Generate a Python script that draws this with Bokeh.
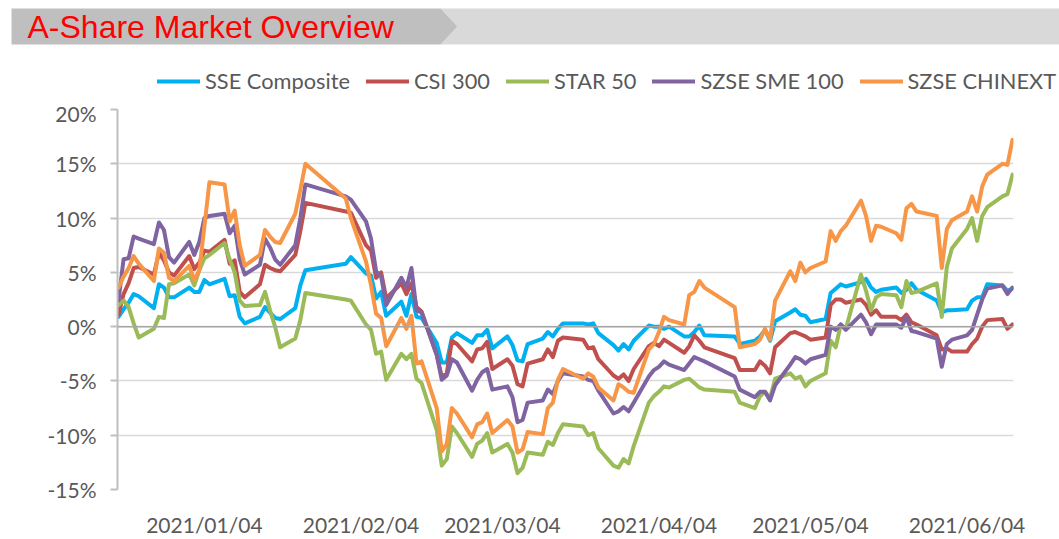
import pandas as pd
from bokeh.plotting import figure
from bokeh.models import ColumnDataSource, FixedTicker, Span, Legend, LegendItem
from bokeh.layouts import column, row
from bokeh.embed import file_html
from bokeh.resources import INLINE
from bokeh.core.properties import value

# ---------------- data ----------------
dates = [
    "2021-01-04", "2021-01-05", "2021-01-06", "2021-01-07", "2021-01-08", "2021-01-11", "2021-01-12",
    "2021-01-13", "2021-01-14", "2021-01-15", "2021-01-18", "2021-01-19", "2021-01-20", "2021-01-21",
    "2021-01-22", "2021-01-25", "2021-01-26", "2021-01-27", "2021-01-28", "2021-01-29",
    "2021-02-01", "2021-02-02", "2021-02-03", "2021-02-04", "2021-02-05", "2021-02-08", "2021-02-09",
    "2021-02-10", "2021-02-18", "2021-02-19", "2021-02-22", "2021-02-23", "2021-02-24", "2021-02-25",
    "2021-02-26",
    "2021-03-01", "2021-03-02", "2021-03-03", "2021-03-04", "2021-03-05", "2021-03-08", "2021-03-09",
    "2021-03-10", "2021-03-11", "2021-03-12", "2021-03-15", "2021-03-16", "2021-03-17", "2021-03-18",
    "2021-03-19", "2021-03-22", "2021-03-23", "2021-03-24", "2021-03-25", "2021-03-26", "2021-03-29",
    "2021-03-30", "2021-03-31",
    "2021-04-01", "2021-04-02", "2021-04-06", "2021-04-07", "2021-04-08", "2021-04-09", "2021-04-12",
    "2021-04-13", "2021-04-14", "2021-04-15", "2021-04-16", "2021-04-19", "2021-04-20", "2021-04-21",
    "2021-04-22", "2021-04-23", "2021-04-26", "2021-04-27", "2021-04-28", "2021-04-29", "2021-04-30",
    "2021-05-06", "2021-05-07", "2021-05-10", "2021-05-11", "2021-05-12", "2021-05-13", "2021-05-14",
    "2021-05-17", "2021-05-18", "2021-05-19", "2021-05-20", "2021-05-21", "2021-05-24", "2021-05-25",
    "2021-05-26", "2021-05-27", "2021-05-28", "2021-05-31",
    "2021-06-01", "2021-06-02", "2021-06-03", "2021-06-04", "2021-06-07", "2021-06-08", "2021-06-09",
    "2021-06-10", "2021-06-11", "2021-06-15", "2021-06-16", "2021-06-17", "2021-06-18", "2021-06-21",
    "2021-06-22", "2021-06-23", "2021-06-24", "2021-06-25", "2021-06-28", "2021-06-29", "2021-06-30",
]

sse_composite = [
    0.9, 1.6, 2.2, 3.0, 2.8, 1.7, 3.9, 3.6, 2.7, 2.7, 3.6, 3.2, 3.2, 4.3, 3.9, 4.4, 2.8, 2.9, 0.9, 0.3,
    0.9, 1.8, 1.3, 0.8, 0.7, 1.7, 3.8, 5.2, 5.8, 6.4, 4.9, 4.7, 2.6, 3.2, 1.0,
    2.3, 1.0, 3.0, 0.9, 0.8, -1.5, -3.3, -3.3, -1.0, -0.6, -1.5, -0.8, -0.8, -0.3, -2.0, -0.9, -1.7,
    -3.1, -3.2, -1.6, -1.1, -0.5, -0.9,
    -0.2, 0.3, 0.3, 0.2, 0.3, -0.6, -1.7, -2.2, -1.6, -2.1, -1.3, 0.1, 0.0, 0.0, -0.2, 0.0, -0.9,
    -0.9, -0.5, 0.1, -0.8,
    -0.9, -1.6, -1.3, -0.9, -0.3, -1.3, 0.5, 1.3, 1.6, 1.1, 1.0, 0.4, 0.7, 3.1, 3.5, 3.9, 3.7, 4.1,
    4.4, 3.6, 3.2, 3.4, 3.6, 3.1, 3.4, 4.0, 3.4, 2.4, 1.3, 1.5, 1.5, 1.6, 2.4, 2.7, 2.7, 3.9, 3.8,
    3.3, 3.5,
]

csi_300 = [
    1.1, 3.0, 4.0, 5.4, 5.5, 4.8, 6.8, 6.1, 5.0, 4.7, 6.5, 5.3, 5.9, 7.0, 6.9, 8.0, 5.8, 6.1, 3.2, 2.7,
    3.9, 5.7, 5.4, 5.2, 5.1, 6.6, 8.8, 11.4, 10.6, 10.5, 7.5, 7.0, 4.5, 5.0, 2.6,
    4.0, 3.0, 4.0, 1.8, 1.4, -2.6, -4.6, -4.3, -1.3, -1.6, -3.2, -2.1, -2.0, -1.4, -3.9, -3.0, -3.6,
    -5.3, -5.5, -3.4, -3.0, -2.1, -2.8,
    -1.3, -1.0, -1.2, -2.0, -1.9, -3.0, -4.5, -4.8, -4.4, -5.0, -3.9, -1.8, -1.5, -1.8, -1.2, -1.5,
    -2.4, -1.8, -0.8, -1.3, -1.9,
    -2.9, -4.0, -4.0, -3.2, -3.6, -4.3, -1.9, -0.6, -0.5, -0.7, -0.9, -1.2, -1.0, 2.0, 2.5, 2.5, 2.2,
    2.5,
    2.0, 1.1, 1.5, 0.9, 0.9, 0.6, 1.1, 0.4, 0.2, -0.8, -2.1, -2.0, -2.3, -2.3, -1.6, -1.1, 0.0, 0.6,
    0.7, -0.2, 0.2,
]

star_50 = [
    2.0, 2.4, 1.8, 0.3, -1.0, -0.2, 0.9, 0.8, 3.9, 4.0, 4.8, 3.8, 5.2, 6.3, 6.6, 7.7, 6.2, 5.0, 2.4, 1.9,
    2.0, 3.2, 1.5, 0.0, -1.9, -1.1, 0.6, 3.1, 2.5, 2.4, 0.2, -0.3, -2.5, -2.3, -4.9,
    -2.5, -3.0, -2.5, -4.8, -5.2, -9.5, -12.8, -12.2, -9.2, -9.8, -12.0, -10.8, -10.5, -9.8, -11.6,
    -10.8, -11.6, -13.5, -13.0, -11.6, -11.8, -10.6, -10.9,
    -9.8, -9.0, -9.2, -10.0, -9.8, -11.2, -12.8, -13.0, -12.2, -12.6, -11.0, -7.0, -6.4, -6.0, -5.5,
    -5.6, -4.9, -4.8, -5.2, -5.6, -5.8,
    -6.0, -7.0, -7.5, -6.4, -6.0, -6.6, -4.8, -4.3, -4.8, -4.6, -5.5, -5.0, -4.3, -1.3, -1.9, 0.2,
    -0.2, 4.8,
    3.3, 1.5, 2.7, 3.0, 2.9, 1.8, 4.2, 3.1, 3.2, 4.0, 0.9, 5.5, 7.2, 9.0, 10.0, 7.9, 10.2, 11.0, 12.0,
    12.2, 14.0,
]

szse_sme_100 = [
    2.4, 6.2, 6.3, 8.3, 8.1, 7.6, 9.6, 8.9, 6.4, 5.9, 7.8, 6.6, 7.8, 10.0, 10.2, 10.4, 8.6, 9.3, 6.2, 4.8,
    5.7, 8.1, 7.3, 6.2, 5.7, 7.5, 10.0, 13.1, 12.0, 11.7, 9.7, 8.1, 5.1, 4.6, 2.0,
    4.5, 3.6, 5.4, 1.5, 1.3, -2.6, -4.9, -4.5, -3.0, -3.3, -5.9, -4.9, -4.2, -3.9, -5.8, -5.5, -6.5,
    -8.8, -8.6, -7.0, -6.8, -5.8, -6.2,
    -5.0, -4.3, -4.6, -4.9, -5.0, -5.9, -8.0, -7.8, -7.4, -7.8, -7.0, -4.6, -4.0, -3.7, -3.2, -3.5,
    -4.0, -3.4, -2.8, -3.0, -3.2,
    -4.6, -5.8, -6.5, -6.0, -6.0, -6.8, -5.4, -3.5, -2.8, -3.0, -3.4, -3.0, -2.6, 0.0, -0.3, 0.2,
    -0.3, 1.1,
    0.4, -0.7, 0.2, 0.2, 0.2, -0.1, 0.9, -0.4, -0.5, -1.1, -3.7, -1.6, -1.2, -0.8, -0.3, 1.1, 2.5, 3.5,
    3.8, 3.0, 3.6,
]

szse_chinext = [
    3.6, 4.6, 5.4, 6.5, 5.8, 4.2, 7.2, 6.8, 4.5, 4.2, 5.6, 4.3, 5.2, 9.2, 13.3, 13.1, 9.7, 10.7, 7.5, 5.6,
    6.6, 8.9, 8.3, 7.8, 7.7, 10.4, 12.6, 15.0, 11.8, 10.0, 6.0, 3.8, 1.2, 0.8, -1.8,
    0.8, -0.2, 1.0, -3.4, -3.2, -7.5, -11.5, -10.8, -7.5, -8.0, -10.2, -9.0, -8.8, -8.0, -9.8, -8.6,
    -9.2, -11.6, -11.3, -9.7, -9.9, -7.5, -7.0,
    -4.9, -3.9, -4.8, -4.3, -4.6, -5.6, -6.8, -5.3, -5.6, -6.0, -6.1, -2.1, -1.6, -0.5, 0.9, 0.6, 0.2,
    2.9, 3.2, 4.2, 3.6,
    1.8, -1.9, -1.6, -1.2, -0.2, -1.2, 2.4, 5.1, 4.2, 5.9, 5.0, 5.4, 6.0, 8.8, 7.9, 8.8, 9.3, 11.6,
    10.2, 7.9, 9.3, 9.2, 8.6, 8.0, 10.9, 11.3, 10.6, 10.2, 5.4, 9.0, 9.8, 10.6, 12.0, 10.6, 12.9, 14.0,
    15.0, 14.9, 17.2,
]

series_names = ["SSE Composite", "CSI 300", "STAR 50", "SZSE SME 100", "SZSE CHINEXT"]
series_colors = ["#00B0F0", "#C0504D", "#9BBB59", "#8064A2", "#F79646"]
y_ticks = [-15, -10, -5, 0, 5, 10, 15, 20]
x_tick_labels = ["2021/01/04", "2021/02/04", "2021/03/04", "2021/04/04", "2021/05/04", "2021/06/04"]
title_text = "A-Share Market Overview"

# ---------------- helpers ----------------
base = pd.Timestamp(dates[0])
day_index = [(pd.Timestamp(d) - base).days for d in dates]
label_shift = 17  # the source chart draws each month label about 17 days right of its date
x_tick_pos = [(pd.Timestamp(l.replace("/", "-")) - base).days + label_shift for l in x_tick_labels]
last_day = day_index[-1]

FONT = "Lato"
GREY_TXT = "#595959"
W = 1059
H = 539
TOP_H = 100

# ---------------- header: banner + legend ----------------
head = figure(width=W, height=TOP_H, x_range=(0, W), y_range=(0, TOP_H),
              output_backend="svg", toolbar_location=None,
              x_axis_type=None, y_axis_type=None,
              min_border_left=0, min_border_right=0, min_border_top=0, min_border_bottom=0)
head.outline_line_color = None
head.grid.visible = False
head.patch([440, W, W, 440, 457], [92, 92, 56, 56, 74], color="#D9D9D9", line_color=None)
head.patch([11, 440, 457, 440, 11], [92, 92, 74, 56, 56], color="#BFBFBF", line_color=None)
head.text(x=[27], y=[73.5], text=[title_text], text_font=value("Liberation Sans"),
          text_font_size="32px", text_color="#FF0000", text_baseline="middle", text_align="left")

# legend swatches: proxy line renderers (parked outside the visible header range)
items = []
for name, col in zip(series_names, series_colors):
    proxy = head.line(x=[-50, -40], y=[-50, -50], line_color=col, line_width=4, line_cap="round")
    items.append(LegendItem(label=name, renderers=[proxy]))
leg = Legend(items=items, orientation="horizontal", location=(157, 6),
             border_line_color=None, background_fill_alpha=0, padding=0, margin=0,
             spacing=16, glyph_width=43, glyph_height=20, label_standoff=5,
             label_text_font=FONT, label_text_font_size="21.8px", label_text_color=GREY_TXT)
head.add_layout(leg)

# ---------------- chart ----------------
p = figure(width=W, height=H - TOP_H, x_range=(-0.2, last_day + 0.2), y_range=(-15, 20),
           output_backend="svg", toolbar_location=None,
           min_border_left=117, min_border_right=W - 1013, min_border_top=9,
           min_border_bottom=H - 494)
p.outline_line_color = None
p.background_fill_color = "white"

src = ColumnDataSource(dict(x=day_index, s0=sse_composite, s1=csi_300, s2=star_50,
                            s3=szse_sme_100, s4=szse_chinext))

p.xgrid.visible = False
p.ygrid.grid_line_color = "#D9D9D9"
p.ygrid.grid_line_width = 1.5
p.ygrid.ticker = FixedTicker(ticks=y_ticks)

zero = Span(location=0, dimension="width", line_color="#A6A6A6", line_width=1.5)
p.add_layout(zero)

for i, col in enumerate(series_colors):
    p.line("x", f"s{i}", source=src, line_color=col, line_width=4,
           line_join="round", line_cap="round")

# y axis
p.yaxis.ticker = FixedTicker(ticks=y_ticks)
p.yaxis.major_label_overrides = {t: f"{t}%" for t in y_ticks}
p.yaxis.axis_line_color = "#BFBFBF"
p.yaxis.axis_line_width = 2
p.yaxis.major_tick_line_color = "#BFBFBF"
p.yaxis.major_tick_line_width = 2
p.yaxis.major_tick_out = 7
p.yaxis.major_tick_in = 0
p.yaxis.minor_tick_line_color = None
p.yaxis.major_label_standoff = 14
p.yaxis.major_label_text_font = FONT
p.yaxis.major_label_text_font_size = "21px"
p.yaxis.major_label_text_color = GREY_TXT

# x axis
p.xaxis.ticker = FixedTicker(ticks=x_tick_pos)
p.xaxis.major_label_overrides = {t: l for t, l in zip(x_tick_pos, x_tick_labels)}
p.xaxis.axis_line_color = None
p.xaxis.major_tick_line_color = None
p.xaxis.minor_tick_line_color = None
p.xaxis.major_label_standoff = 16
p.xaxis.major_label_text_font = FONT
p.xaxis.major_label_text_font_size = "21px"
p.xaxis.major_label_text_color = GREY_TXT

layout = column(row(head), p, spacing=0)
open("out.html", "w").write(file_html(layout, INLINE))
